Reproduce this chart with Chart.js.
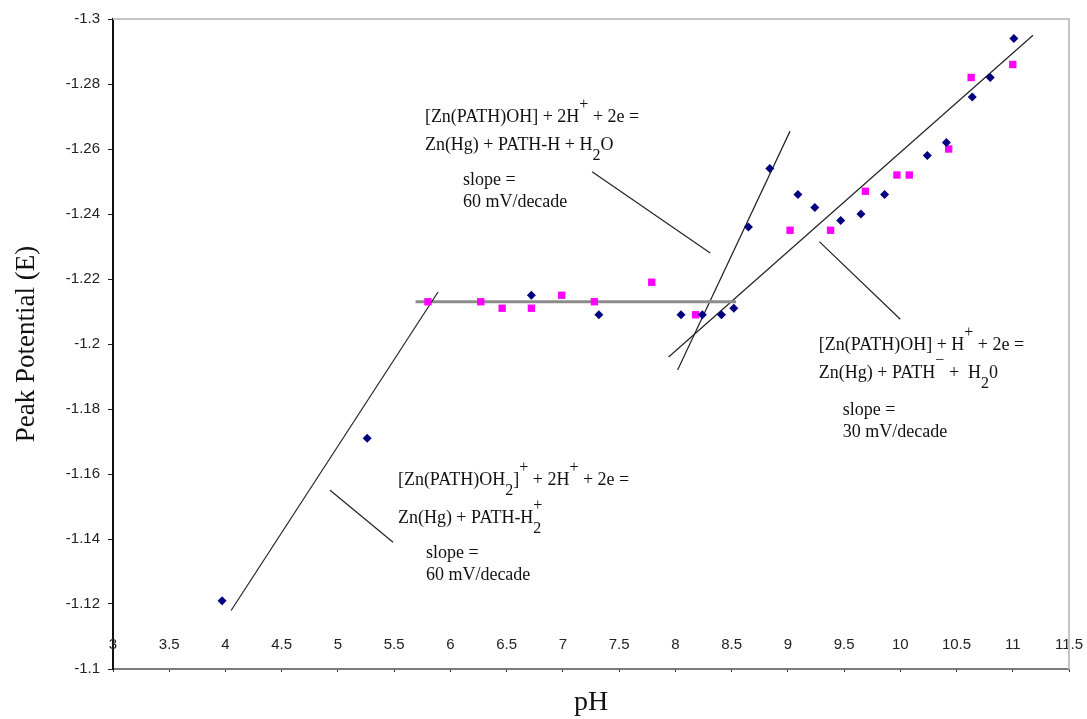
<!DOCTYPE html>
<html>
<head>
<meta charset="utf-8">
<script src="https://cdn.jsdelivr.net/npm/chart.js@4.4.1/dist/chart.umd.min.js"></script>
<style>
    /* 画布容器 */
    body { margin: 0; background: #fff; }
    .chart-container { width: 1087px; height: 719px; position: relative; }
</style>
</head>
<body>
<div class="chart-container">
    <canvas id="phChart"></canvas>
</div>
<script>
    // data
    const navyX = [3.97, 5.26, 6.72, 7.32, 8.05, 8.24, 8.41, 8.52, 8.65, 8.84, 9.09, 9.24, 9.47, 9.65, 9.86, 10.24, 10.41, 10.64, 10.80, 11.01];
    const navyY = [-1.121, -1.171, -1.215, -1.209, -1.209, -1.209, -1.209, -1.211, -1.236, -1.254, -1.246, -1.242, -1.238, -1.240, -1.246, -1.258, -1.262, -1.276, -1.282, -1.294];
    const pinkX = [5.80, 6.27, 6.46, 6.72, 6.99, 7.28, 7.79, 8.18, 9.02, 9.38, 9.69, 9.97, 10.08, 10.43, 10.63, 11.00];
    const pinkY = [-1.213, -1.213, -1.211, -1.211, -1.215, -1.213, -1.219, -1.209, -1.235, -1.235, -1.247, -1.252, -1.252, -1.260, -1.282, -1.286];

    // fitted lines
    const fitLowX = [4.05, 5.89];
    const fitLowY = [-1.118, -1.216];
    const plateauX = [5.69, 8.54];
    const plateauY = [-1.213, -1.213];
    const fitSteepX = [8.02, 9.02];
    const fitSteepY = [-1.192, -1.2655];
    const fitHighX = [7.94, 11.18];
    const fitHighY = [-1.196, -1.295];

    // pointer lines to the notes
    const leader1X = [4.93, 5.49];
    const leader1Y = [-1.155, -1.139];
    const leader2X = [7.26, 8.31];
    const leader2Y = [-1.253, -1.228];
    const leader3X = [9.28, 10.0];
    const leader3Y = [-1.2315, -1.2076];

    const xTicks = [3, 3.5, 4, 4.5, 5, 5.5, 6, 6.5, 7, 7.5, 8, 8.5, 9, 9.5, 10, 10.5, 11, 11.5];
    const yTicks = [-1.3, -1.28, -1.26, -1.24, -1.22, -1.2, -1.18, -1.16, -1.14, -1.12, -1.1];

    const pts = (xs, ys) => xs.map((x, i) => ({ x: x, y: ys[i] }));

    // notes: anchor in data units, each line = [dx, dy, segments]
    const notes = [
        { x: 5.773, y: -1.2699, lines: [
            [0, 0, ['[Zn(PATH)OH] + 2H', { sup: '+' }, ' + 2e =']],
            [0, 28, ['Zn(Hg) + PATH-H + H', { sub: '2' }, 'O']],
            [38, 63, ['slope =']],
            [38, 85, ['60 mV/decade']]
        ]},
        { x: 5.533, y: -1.1582, lines: [
            [0, 0, ['[Zn(PATH)OH', { sub: '2' }, ']', { sup: '+' }, ' + 2H', { sup: '+' }, ' + 2e =']],
            [0, 38, ['Zn(Hg) + PATH-H', { sup: '+', sub: '2' }]],
            [28, 73, ['slope =']],
            [28, 95, ['60 mV/decade']]
        ]},
        { x: 9.276, y: -1.1997, lines: [
            [0, 0, ['[Zn(PATH)OH] + H', { sup: '+' }, ' + 2e =']],
            [0, 28, ['Zn(Hg) + PATH', { sup: '\u2212' }, ' +  H', { sub: '2' }, '0']],
            [24, 65, ['slope =']],
            [24, 87, ['30 mV/decade']]
        ]}
    ];

    function drawRich(ctx, x, y, segs) {
        const big = '18px "Liberation Serif"';
        const small = '16px "Liberation Serif"';
        let cx = x;
        segs.forEach(s => {
            if (typeof s === 'string') {
                ctx.font = big;
                ctx.fillText(s, cx, y);
                cx += ctx.measureText(s).width;
                return;
            }
            ctx.font = small;
            let w = 0;
            if (s.sup) {
                ctx.fillText(s.sup, cx, y - 12);
                w = Math.max(w, ctx.measureText(s.sup).width);
            }
            if (s.sub) {
                ctx.fillText(s.sub, cx, y + 11);
                w = Math.max(w, ctx.measureText(s.sub).width);
            }
            cx += w;
        });
    }

    const notesPlugin = {
        id: 'notes',
        afterDatasetsDraw(chart) {
            const ctx = chart.ctx;
            const xs = chart.scales.x, ys = chart.scales.y;
            const a = chart.chartArea;
            ctx.save();
            ctx.fillStyle = '#111';
            ctx.textBaseline = 'middle';
            ctx.textAlign = 'left';
            notes.forEach(n => {
                const px = xs.getPixelForValue(n.x);
                const py = ys.getPixelForValue(n.y);
                n.lines.forEach(l => drawRich(ctx, px + l[0], py + l[1], l[2]));
            });
            // x tick labels sit just above the axis line
            ctx.fillStyle = '#222';
            ctx.textAlign = 'center';
            ctx.font = '15px "Liberation Sans", Arial';
            xs.ticks.forEach(t => {
                ctx.fillText(String(t.value), xs.getPixelForValue(t.value), a.bottom - 24);
            });
            // light frame on top and right
            ctx.strokeStyle = '#c4c4c4';
            ctx.lineWidth = 2;
            ctx.beginPath();
            ctx.moveTo(a.left, a.top);
            ctx.lineTo(a.right, a.top);
            ctx.lineTo(a.right, a.bottom);
            ctx.stroke();
            ctx.restore();
        }
    };

    const lineSet = (xs, ys, color, width) => ({
        data: pts(xs, ys),
        showLine: true,
        borderColor: color,
        borderWidth: width,
        pointRadius: 0,
        fill: false
    });

    const ctx = document.getElementById('phChart').getContext('2d');
    window.myPhChart = new Chart(ctx, {
        type: 'scatter',
        data: {
            datasets: [
                {
                    data: pts(navyX, navyY),
                    pointStyle: 'rectRot',
                    pointRadius: 4.5,
                    backgroundColor: '#000080',
                    borderColor: '#000080',
                    borderWidth: 0
                },
                {
                    data: pts(pinkX, pinkY),
                    pointStyle: 'rect',
                    pointRadius: 5.2,
                    backgroundColor: '#ff00ff',
                    borderColor: '#ff00ff',
                    borderWidth: 0
                },
                lineSet(fitLowX, fitLowY, '#222', 1.2),
                lineSet(plateauX, plateauY, '#8c8c8c', 3),
                lineSet(fitSteepX, fitSteepY, '#222', 1.2),
                lineSet(fitHighX, fitHighY, '#222', 1.2),
                lineSet(leader1X, leader1Y, '#222', 1.2),
                lineSet(leader2X, leader2Y, '#222', 1.2),
                lineSet(leader3X, leader3Y, '#222', 1.2)
            ]
        },
        options: {
            responsive: true,
            maintainAspectRatio: false,
            animation: false,
            layout: { padding: { top: 19, right: 18, left: 0, bottom: 0 } },
            plugins: {
                legend: { display: false },
                tooltip: { enabled: false }
            },
            scales: {
                x: {
                    type: 'linear',
                    min: 3,
                    max: 11.5,
                    afterBuildTicks: s => { s.ticks = xTicks.map(v => ({ value: v })); },
                    afterFit: s => { s.height = 50; },
                    grid: { drawOnChartArea: false, drawTicks: true, tickLength: 3, color: '#333' },
                    border: { color: '#7a7a7a', width: 2 },
                    ticks: { display: false },
                    title: {
                        display: true,
                        text: 'pH',
                        color: '#111',
                        padding: { top: 0, bottom: 0 },
                        font: { family: '"Liberation Serif"', size: 28 }
                    }
                },
                y: {
                    type: 'linear',
                    reverse: true,
                    min: -1.3,
                    max: -1.1,
                    afterBuildTicks: s => { s.ticks = yTicks.map(v => ({ value: v })); },
                    afterFit: s => { s.width = 113; },
                    grid: { drawOnChartArea: false, drawTicks: true, tickLength: 5, color: '#222' },
                    border: { color: '#111', width: 2 },
                    ticks: {
                        padding: 8,
                        color: '#222',
                        font: { family: '"Liberation Sans", Arial', size: 15 },
                        callback: v => String(v)
                    },
                    title: {
                        display: true,
                        text: 'Peak Potential (E)',
                        color: '#111',
                        padding: { top: 11, bottom: 0 },
                        font: { family: '"Liberation Serif"', size: 27 }
                    }
                }
            }
        },
        plugins: [notesPlugin]
    });
</script>
</body>
</html>
